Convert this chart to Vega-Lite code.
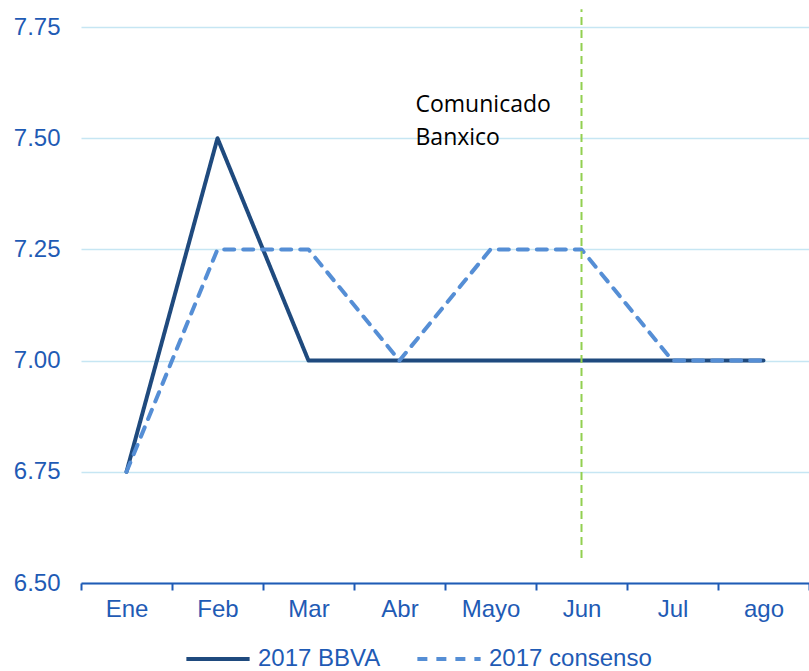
{
  "$schema": "https://vega.github.io/schema/vega-lite/v6.json",
  "width": 728,
  "height": 556,
  "autosize": {"type": "none"},
  "padding": {"left": 81, "top": 27, "right": 0, "bottom": 88},
  "background": "white",
  "config": {
    "view": {"stroke": null},
    "font": "Liberation Sans"
  },
  "datasets": {
    "series": [
      {"mes": "Ene", "serie": "2017 BBVA", "tasa": 6.75},
      {"mes": "Feb", "serie": "2017 BBVA", "tasa": 7.5},
      {"mes": "Mar", "serie": "2017 BBVA", "tasa": 7.0},
      {"mes": "Abr", "serie": "2017 BBVA", "tasa": 7.0},
      {"mes": "Mayo", "serie": "2017 BBVA", "tasa": 7.0},
      {"mes": "Jun", "serie": "2017 BBVA", "tasa": 7.0},
      {"mes": "Jul", "serie": "2017 BBVA", "tasa": 7.0},
      {"mes": "ago", "serie": "2017 BBVA", "tasa": 7.0},
      {"mes": "Ene", "serie": "2017 consenso", "tasa": 6.75},
      {"mes": "Feb", "serie": "2017 consenso", "tasa": 7.25},
      {"mes": "Mar", "serie": "2017 consenso", "tasa": 7.25},
      {"mes": "Abr", "serie": "2017 consenso", "tasa": 7.0},
      {"mes": "Mayo", "serie": "2017 consenso", "tasa": 7.25},
      {"mes": "Jun", "serie": "2017 consenso", "tasa": 7.25},
      {"mes": "Jul", "serie": "2017 consenso", "tasa": 7.0},
      {"mes": "ago", "serie": "2017 consenso", "tasa": 7.0}
    ],
    "evento": [
      {"mes": "Jun", "desde": 6.556, "hasta": 7.79}
    ],
    "nota": [
      {"mes": "Abr", "tasa": 7.574, "texto": ["Comunicado", "Banxico"]}
    ]
  },
  "layer": [
    {
      "data": {"name": "series"},
      "mark": {"type": "line", "strokeWidth": 4, "strokeCap": "round", "strokeJoin": "round"},
      "encoding": {
        "x": {
          "field": "mes", "type": "nominal",
          "sort": ["Ene", "Feb", "Mar", "Abr", "Mayo", "Jun", "Jul", "ago"],
          "scale": {"paddingInner": 0, "paddingOuter": 0},
          "axis": {
            "title": null, "labelAngle": 0, "labelFontSize": 24, "labelColor": "#1F5BB5",
            "domainColor": "#1F5BB5", "domainWidth": 2, "tickColor": "#1F5BB5", "tickWidth": 2,
            "tickSize": 7, "tickBand": "extent", "labelPadding": 7, "grid": false
          }
        },
        "y": {
          "field": "tasa", "type": "quantitative",
          "scale": {"domain": [6.5, 7.75], "nice": false, "zero": false},
          "axis": {
            "title": null, "values": [6.5, 6.75, 7.0, 7.25, 7.5, 7.75], "format": ".2f",
            "labelFontSize": 24, "labelColor": "#1F5BB5", "domain": false, "ticks": false,
            "labelPadding": 21, "grid": true, "gridColor": "#C6E6F3", "gridWidth": 1.5
          }
        },
        "color": {
          "field": "serie", "type": "nominal",
          "scale": {"domain": ["2017 BBVA", "2017 consenso"], "range": ["#1F4A7E", "#558ED5"]},
          "legend": {
            "title": null, "orient": "none", "direction": "horizontal",
            "legendX": 103, "legendY": 598, "symbolType": "stroke", "symbolSize": 4000,
            "symbolStrokeWidth": 4, "labelFontSize": 24, "labelColor": "#1F5BB5",
            "labelOffset": 6, "columnPadding": 28, "labelLimit": 400
          }
        },
        "strokeDash": {
          "field": "serie", "type": "nominal",
          "scale": {"domain": ["2017 BBVA", "2017 consenso"], "range": [[1, 0], [10, 9]]},
          "legend": null
        }
      }
    },
    {
      "data": {"name": "evento"},
      "mark": {"type": "rule", "color": "#92D050", "strokeWidth": 2, "strokeDash": [8, 5]},
      "encoding": {
        "x": {"field": "mes", "type": "nominal", "sort": ["Ene", "Feb", "Mar", "Abr", "Mayo", "Jun", "Jul", "ago"]},
        "y": {"field": "desde", "type": "quantitative"},
        "y2": {"field": "hasta"}
      }
    },
    {
      "data": {"name": "nota"},
      "mark": {"type": "text", "align": "left", "baseline": "middle", "xOffset": 16, "fontSize": 23, "font": "Open Sans", "color": "#000000", "lineHeight": 33},
      "encoding": {
        "x": {"field": "mes", "type": "nominal", "sort": ["Ene", "Feb", "Mar", "Abr", "Mayo", "Jun", "Jul", "ago"]},
        "y": {"field": "tasa", "type": "quantitative"},
        "text": {"field": "texto"}
      }
    }
  ]
}
